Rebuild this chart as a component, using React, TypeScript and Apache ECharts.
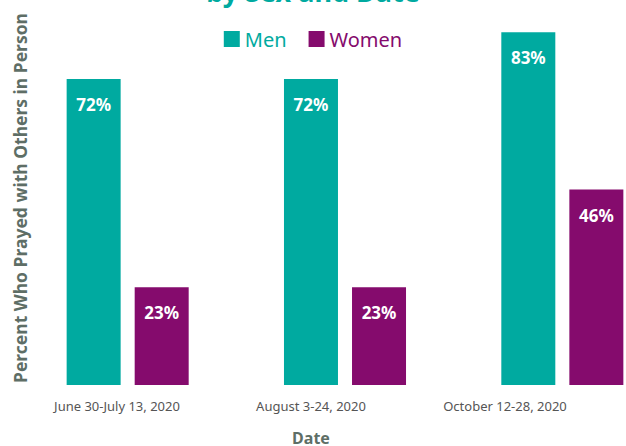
import React, { useEffect, useRef } from "react";
import * as echarts from "echarts";

const categories = ["June 30-July 13, 2020", "August 3-24, 2020", "October 12-28, 2020"];
const menValues = [72, 72, 83];
const womenValues = [23, 23, 46];
const seriesNames = ["Men", "Women"];

const TEAL = "#00AAA0";
const PURPLE = "#850B6D";
const FONT = "'Noto Sans', sans-serif";

export default function App() {
  const ref = useRef<HTMLDivElement>(null);
  useEffect(() => {
    const chart = echarts.init(ref.current!, null, { renderer: "svg" });
    const label = {
      show: true,
      position: "insideTop" as const,
      distance: 17,
      color: "#ffffff",
      fontWeight: "bold" as const,
      fontSize: 17,
      fontFamily: FONT,
      formatter: "{c}%",
    };
    chart.setOption({
      animation: false,
      backgroundColor: "#ffffff",
      legend: {
        top: 24,
        left: "center",
        itemWidth: 16,
        itemHeight: 16,
        itemGap: 22,
        icon: "rect",
        textStyle: { fontSize: 20, fontFamily: FONT },
        data: [
          { name: seriesNames[0], textStyle: { color: TEAL } },
          { name: seriesNames[1], textStyle: { color: PURPLE } },
        ],
      },
      graphic: [
        {
          type: "text",
          left: "center",
          top: -22,
          style: { text: "by Sex and Date", fontSize: 27, fontWeight: "bold", fill: TEAL, fontFamily: FONT },
        },
        {
          type: "text",
          x: 20,
          y: 198,
          rotation: Math.PI / 2,
          style: {
            text: "Percent Who Prayed with Others in Person",
            fontSize: 17.5,
            fontWeight: "bold",
            fill: "#5E6E66",
            fontFamily: FONT,
            align: "center",
            verticalAlign: "middle",
          },
        },
        {
          type: "text",
          x: 311,
          y: 438,
          style: {
            text: "Date",
            fontSize: 16,
            fontWeight: "bold",
            fill: "#5E6E66",
            fontFamily: FONT,
            align: "center",
            verticalAlign: "middle",
          },
        },
      ],
      grid: [
        { left: 19, width: 652, top: -40, bottom: 61, outerBoundsMode: "none" },
        { left: 20, width: 582, top: -40, bottom: 61, outerBoundsMode: "none" },
      ],
      xAxis: [
        {
          type: "category",
          gridIndex: 0,
          data: categories,
          axisLine: { show: false },
          axisTick: { show: false },
          axisLabel: { show: false },
        },
        {
          type: "category",
          gridIndex: 1,
          data: categories,
          axisLine: { show: false },
          axisTick: { show: false },
          axisLabel: { color: "#555555", fontSize: 13, fontFamily: FONT, margin: 14 },
        },
      ],
      yAxis: [
        { type: "value", gridIndex: 0, min: 0, max: 100, show: false, splitLine: { show: false } },
        { type: "value", gridIndex: 1, min: 0, max: 100, show: false, splitLine: { show: false } },
      ],
      series: [
        {
          name: seriesNames[0],
          type: "bar",
          data: menValues,
          barWidth: 54,
          barGap: "26%",
          itemStyle: { color: TEAL },
          label,
        },
        {
          name: seriesNames[1],
          type: "bar",
          data: womenValues,
          barWidth: 54,
          barGap: "26%",
          itemStyle: { color: PURPLE },
          label,
        },
      ],
    });
    return () => chart.dispose();
  }, []);
  return (
    <div
      ref={ref}
      style={{ position: "fixed", left: 0, top: 0, width: 626, height: 446 }}
    />
  );
}
